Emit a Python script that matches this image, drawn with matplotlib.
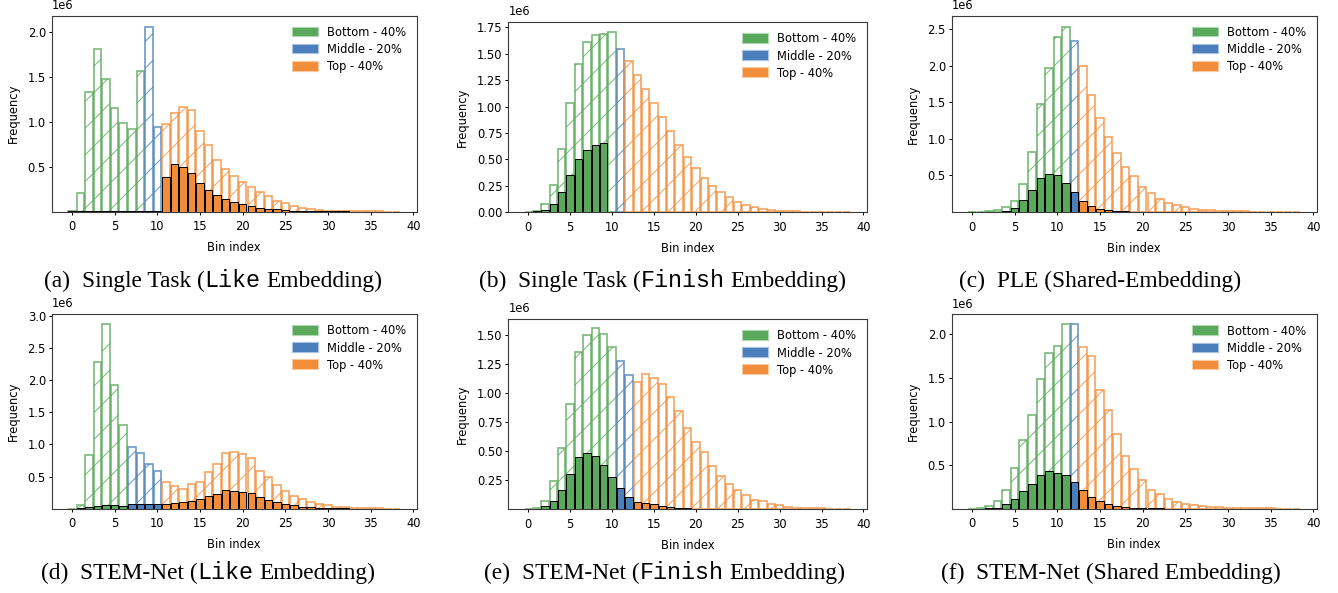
import numpy as np
import matplotlib
matplotlib.use("Agg")
import matplotlib.pyplot as plt
from matplotlib.patches import Patch
from matplotlib.colors import to_rgba

# ---------------- data (frequencies in millions) ----------------
bins = list(range(39))

a_total = [0.01, 0.21, 1.33, 1.81, 1.48, 1.15, 0.99, 0.92, 1.57, 2.05, 0.94, 0.98, 1.10, 1.16, 1.13, 0.90,
           0.74, 0.57, 0.47, 0.40, 0.33, 0.27, 0.22, 0.17, 0.12, 0.095, 0.065, 0.043, 0.032, 0.02, 0.012,
           0.008, 0.006, 0.005, 0.004, 0.003, 0.003, 0.002, 0.002]
a_sub = [0.005, 0.005, 0.006, 0.006, 0.006, 0.006, 0.006, 0.006, 0.005, 0.004, 0.005, 0.39, 0.53, 0.50, 0.43,
         0.32, 0.24, 0.19, 0.146, 0.11, 0.083, 0.058, 0.043, 0.032, 0.025, 0.015, 0.01, 0.008, 0.006, 0.005,
         0.004, 0.003, 0.003, 0.002, 0.002, 0.002, 0.002, 0.001, 0.001]

b_total = [0.002, 0.016, 0.08, 0.26, 0.60, 1.03, 1.40, 1.61, 1.68, 1.69, 1.71, 1.54, 1.43, 1.30, 1.17, 1.03,
           0.90, 0.765, 0.64, 0.52, 0.42, 0.325, 0.25, 0.19, 0.14, 0.10, 0.07, 0.047, 0.03, 0.022, 0.015,
           0.012, 0.008, 0.006, 0.004, 0.003, 0.002, 0.002, 0.001]
b_sub = [0.001, 0.01, 0.02, 0.075, 0.19, 0.35, 0.50, 0.59, 0.64, 0.66, 0.003, 0.0, 0.0, 0.0, 0.0, 0.0,
         0.0, 0.0, 0.0, 0.0, 0.0, 0.0, 0.0, 0.0, 0.0, 0.0, 0.0, 0.0, 0.0, 0.0, 0.0,
         0.0, 0.0, 0.0, 0.0, 0.0, 0.0, 0.0, 0.0]

c_total = [0.002, 0.003, 0.008, 0.027, 0.064, 0.155, 0.386, 0.82, 1.47, 1.96, 2.39, 2.52, 2.34, 1.99, 1.60,
           1.28, 1.02, 0.80, 0.62, 0.49, 0.345, 0.255, 0.18, 0.127, 0.09, 0.064, 0.045, 0.032, 0.023, 0.018,
           0.012, 0.01, 0.008, 0.006, 0.005, 0.004, 0.003, 0.003, 0.002]
c_sub = [0.001, 0.001, 0.002, 0.005, 0.014, 0.055, 0.16, 0.30, 0.47, 0.52, 0.505, 0.40, 0.27, 0.15, 0.082,
         0.04, 0.023, 0.014, 0.008, 0.005, 0.004, 0.003, 0.002, 0.002, 0.001, 0.001, 0.001, 0.001, 0.001,
         0.001, 0.001, 0.001, 0.001, 0.001, 0.001, 0.001, 0.001, 0.001, 0.001]

d_total = [0.002, 0.055, 0.83, 2.28, 2.87, 1.93, 1.31, 0.955, 0.86, 0.69, 0.59, 0.41, 0.36, 0.31, 0.38, 0.42,
           0.57, 0.69, 0.87, 0.88, 0.85, 0.79, 0.59, 0.49, 0.365, 0.27, 0.19, 0.15, 0.107, 0.07, 0.055,
           0.034, 0.02, 0.013, 0.008, 0.006, 0.004, 0.003, 0.002]
d_sub = [0.001, 0.005, 0.02, 0.04, 0.05, 0.05, 0.045, 0.07, 0.075, 0.075, 0.07, 0.075, 0.09, 0.10, 0.125,
         0.15, 0.19, 0.23, 0.29, 0.28, 0.26, 0.24, 0.175, 0.14, 0.10, 0.07, 0.05, 0.034, 0.023, 0.013,
         0.008, 0.005, 0.004, 0.003, 0.002, 0.002, 0.001, 0.001, 0.001]

e_total = [0.003, 0.009, 0.067, 0.24, 0.53, 0.91, 1.357, 1.505, 1.56, 1.51, 1.40, 1.28, 1.16, 1.10, 1.165,
           1.13, 1.08, 0.965, 0.845, 0.70, 0.575, 0.49, 0.373, 0.285, 0.215, 0.167, 0.118, 0.078, 0.067,
           0.047, 0.035, 0.018, 0.012, 0.008, 0.006, 0.005, 0.004, 0.003, 0.002]
e_sub = [0.001, 0.003, 0.024, 0.072, 0.167, 0.30, 0.45, 0.48, 0.46, 0.38, 0.275, 0.18, 0.107, 0.064, 0.05,
         0.04, 0.026, 0.018, 0.01, 0.006, 0.004, 0.003, 0.002, 0.002, 0.001, 0.001, 0.001, 0.001, 0.001,
         0.001, 0.001, 0.001, 0.001, 0.001, 0.001, 0.001, 0.001, 0.001, 0.001]

f_total = [0.002, 0.004, 0.03, 0.088, 0.21, 0.465, 0.79, 1.08, 1.49, 1.79, 1.87, 2.12, 2.115, 1.86, 1.75,
           1.36, 1.13, 0.86, 0.61, 0.45, 0.33, 0.22, 0.164, 0.107, 0.073, 0.053, 0.038, 0.03, 0.023, 0.015,
           0.01, 0.008, 0.006, 0.005, 0.004, 0.003, 0.002, 0.002, 0.001]
f_sub = [0.001, 0.001, 0.003, 0.008, 0.053, 0.115, 0.2, 0.285, 0.39, 0.435, 0.41, 0.39, 0.305, 0.21, 0.13,
         0.088, 0.057, 0.03, 0.019, 0.01, 0.006, 0.004, 0.003, 0.002, 0.002, 0.001, 0.001, 0.001, 0.001,
         0.001, 0.001, 0.001, 0.001, 0.001, 0.001, 0.001, 0.001, 0.001, 0.001]

# first bin of the Middle group and of the Top group, per panel
mid_start = [9, 11, 12, 7, 11, 12]
top_start = [11, 12, 13, 11, 13, 13]

yticks_list = [
    [0.5, 1.0, 1.5, 2.0],
    [0.0, 0.25, 0.5, 0.75, 1.0, 1.25, 1.5, 1.75],
    [0.5, 1.0, 1.5, 2.0, 2.5],
    [0.5, 1.0, 1.5, 2.0, 2.5, 3.0],
    [0.25, 0.5, 0.75, 1.0, 1.25, 1.5],
    [0.5, 1.0, 1.5, 2.0],
]
ytops = [2.18, 1.80, 2.68, 3.03, 1.64, 2.23]

legend_labels = ["Bottom - 40%", "Middle - 20%", "Top - 40%"]
captions = [
    [("(a)", "serif", 0.0), ("Single Task (", "serif", 0.5), ("Like", "mono", 0.0), ("Embedding)", "serif", 0.25)],
    [("(b)", "serif", 0.0), ("Single Task (", "serif", 0.5), ("Finish", "mono", 0.0), ("Embedding)", "serif", 0.25)],
    [("(c)", "serif", 0.0), ("PLE (Shared-Embedding)", "serif", 0.5)],
    [("(d)", "serif", 0.0), ("STEM-Net (", "serif", 0.5), ("Like", "mono", 0.0), ("Embedding)", "serif", 0.25)],
    [("(e)", "serif", 0.0), ("STEM-Net (", "serif", 0.5), ("Finish", "mono", 0.0), ("Embedding)", "serif", 0.25)],
    [("(f)", "serif", 0.0), ("STEM-Net (Shared Embedding)", "serif", 0.5)],
]

totals = [a_total, b_total, c_total, d_total, e_total, f_total]
subs = [a_sub, b_sub, c_sub, d_sub, e_sub, f_sub]

# ---------------- style ----------------
GREEN = "#59a85b"
BLUE = "#4a7fbb"
ORANGE = "#f28e3b"
DPI = 160
W, H = 1338, 593

plt.rcParams.update({
    "font.family": "DejaVu Sans",
    "font.size": 5.2,
    "axes.linewidth": 0.5,
    "axes.edgecolor": "#3a3a3a",
    "xtick.major.size": 1.3,
    "ytick.major.size": 1.3,
    "xtick.major.width": 0.45,
    "ytick.major.width": 0.45,
    "xtick.major.pad": 2.6,
    "ytick.major.pad": 1.3,
    "hatch.linewidth": 0.5,
    "axes.labelpad": 3.6,
})

fig = plt.figure(figsize=(W / DPI, H / DPI), dpi=DPI)

# axes rectangles in pixels: left, top, right, bottom
rects = [
    (51.7, 15.7, 416.7, 211.7),
    (508.3, 22.0, 866.7, 212.3),
    (951.7, 15.7, 1316.7, 212.0),
    (51.7, 314.0, 416.7, 508.7),
    (508.3, 319.0, 866.7, 509.0),
    (951.7, 314.3, 1316.7, 508.7),
]
cap_centers = [(213, 287.3), (663, 287.3), (1100, 287.3), (208, 579.3), (665, 579.3), (1111, 579.3)]

for i in range(6):
    l, t, r, b = rects[i]
    ax = fig.add_axes([l / W, 1 - b / H, (r - l) / W, (b - t) / H])
    colors = []
    for k in bins:
        if k < mid_start[i]:
            colors.append(GREEN)
        elif k < top_start[i]:
            colors.append(BLUE)
        else:
            colors.append(ORANGE)
    tot = np.array(totals[i]) * 1e6
    sub = np.array(subs[i]) * 1e6
    edge_light = [to_rgba(c, 0.75) for c in colors]
    ax.bar(bins, tot, width=0.88, facecolor="white", edgecolor=edge_light,
           linewidth=0.8, hatch="//", zorder=2)
    ax.bar(bins, sub, width=0.88, color=colors, edgecolor="black",
           linewidth=0.45, zorder=3)
    ax.set_xticks([0, 5, 10, 15, 20, 25, 30, 35, 40])
    ax.set_yticks(np.array(yticks_list[i]) * 1e6)
    ax.set_ylim(0, ytops[i] * 1e6)
    ax.set_xlabel("Bin index")
    ax.set_ylabel("Frequency")
    handles = [Patch(facecolor=c, edgecolor=to_rgba(c, 0.45), linewidth=1.0)
               for c in (GREEN, BLUE, ORANGE)]
    ax.legend(handles, legend_labels, loc="upper right", frameon=False,
              labelspacing=0.36, handlelength=2.15, handleheight=0.75)

# ---------------- captions with mixed fonts ----------------
renderer = fig.canvas.get_renderer()
CAP_PT = 10.5
cap_px = CAP_PT * DPI / 72.0
fams = {"serif": ["Liberation Serif", "DejaVu Serif"], "mono": ["Liberation Mono", "DejaVu Sans Mono"]}
for i in range(6):
    cx, by = cap_centers[i]
    pieces = []
    total_w = 0.0
    for s, fam, gap in captions[i]:
        txt = fig.text(0, 0, s, family=fams[fam], fontsize=CAP_PT, transform=None,
                       ha="left", va="baseline", fontweight="light")
        w = txt.get_window_extent(renderer).width
        pieces.append((txt, w, gap * cap_px))
        total_w += w + gap * cap_px
    x = cx - total_w / 2.0
    ybase = H - by
    for txt, w, g in pieces:
        x += g
        txt.set_position((x, ybase))
        x += w

fig.savefig("out.png", dpi=DPI)
